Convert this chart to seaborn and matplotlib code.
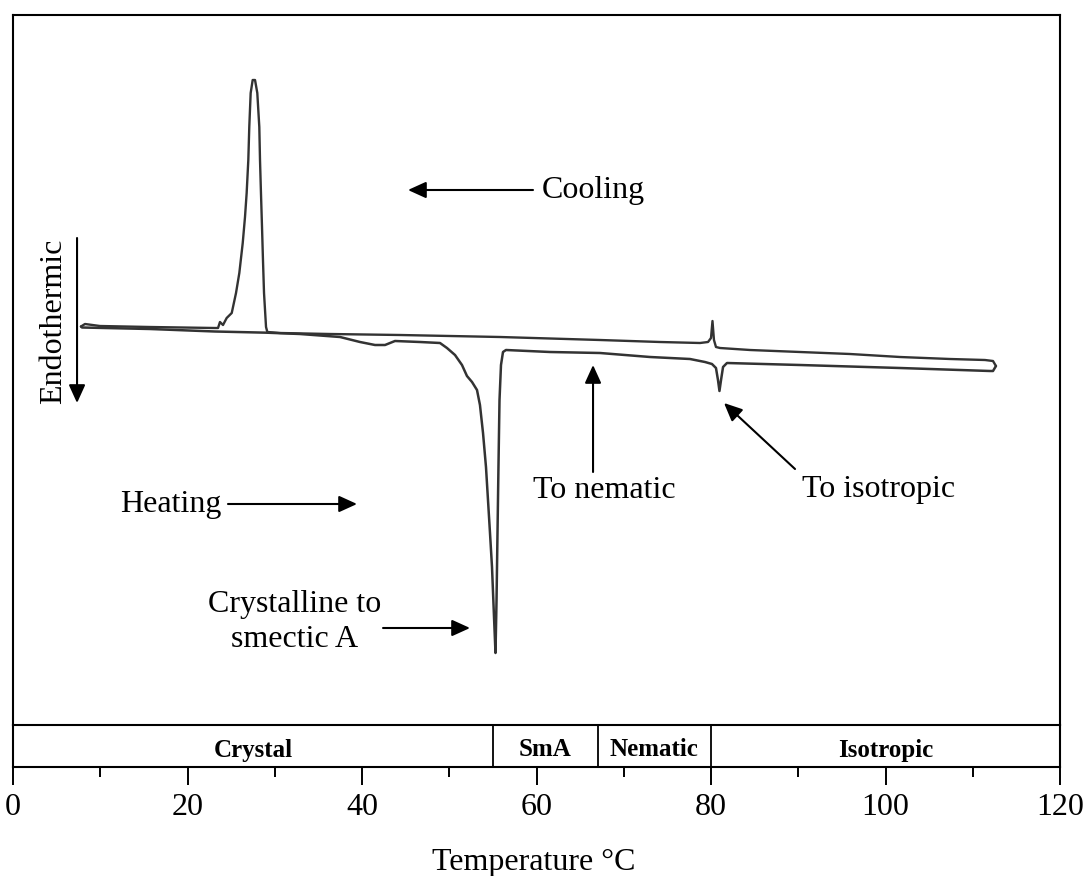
import numpy as np
import pandas as pd
import matplotlib
matplotlib.use("Agg")
import matplotlib.pyplot as plt
from matplotlib.ticker import MultipleLocator
import seaborn as sns

# ---------------- data ----------------
# Heating run (low T -> high T): temperature (°C) and heat flow (a.u., endotherm down)
heating_T = [7.79, 7.91, 15.70, 23.15, 29.11, 32.89, 37.48, 39.77, 41.49, 42.64, 43.21, 43.78,
             46.65, 48.94, 49.74, 50.66, 51.46, 52.03, 52.61, 53.18, 53.52, 53.87, 54.21,
             54.44, 54.67, 54.90, 55.13, 55.30, 55.42, 55.53, 55.64, 55.76, 55.93, 56.16,
             56.50, 61.55, 67.28, 73.01, 77.59, 79.31, 80.11, 80.57, 80.80, 80.97, 81.15,
             81.38, 81.83, 90.20, 101.66, 111.98, 112.32, 112.66]
heating_H = [1.35, 1.25, 1.1, 0.85, 0.73, 0.6, 0.3, -0.2, -0.5, -0.5, -0.3, -0.1,
             -0.2, -0.3, -0.8, -1.5, -2.5, -3.6, -4.2, -5.0, -6.5, -9.3, -12.7,
             -16.0, -19.3, -22.7, -27.7, -31.3, -26.0, -19.3, -12.7, -6.0, -2.5, -1.2,
             -1.0, -1.2, -1.3, -1.7, -1.9, -2.2, -2.4, -2.8, -4.0, -5.1, -4.0,
             -2.7, -2.3, -2.5, -2.8, -3.1, -3.1, -2.6]

# Cooling run (high T -> low T)
cooling_T = [112.66, 112.32, 111.40, 107.39, 101.66, 95.93, 90.20, 84.47, 81.03, 80.57, 80.34,
             80.17, 80.00, 79.66, 78.74, 74.15, 67.28, 55.82, 44.36, 36.33, 30.60, 29.15,
             29.00, 28.77, 28.65, 28.54, 28.42, 28.31, 28.23, 28.00, 27.74, 27.47, 27.24,
             27.08, 26.97, 26.78, 26.59, 26.33, 25.94, 25.56, 25.07, 24.49, 24.07, 23.72,
             23.50, 23.15, 15.70, 9.97, 8.25, 7.79]
cooling_H = [-2.6, -2.1, -2.0, -1.9, -1.7, -1.4, -1.2, -1.0, -0.8, -0.7, 0.0,
             1.9, 0.2, -0.2, -0.3, -0.2, 0.0, 0.3, 0.5, 0.6, 0.7, 0.8,
             1.3, 4.7, 8.0, 11.3, 14.7, 18.0, 21.3, 24.7, 26.0, 26.0, 24.7,
             21.3, 18.0, 14.7, 12.3, 9.7, 6.7, 4.7, 2.7, 2.2, 1.5, 1.8,
             1.2, 1.2, 1.3, 1.4, 1.6, 1.35]

# Phase bar
phase_names = ["Crystal", "SmA", "Nematic", "Isotropic"]
phase_bounds = [0, 55, 67, 80, 120]

x_ticks_major = [0, 20, 40, 60, 80, 100, 120]

# ---------------- styling ----------------
sns.set_style("white")
plt.rcParams["font.family"] = ["Liberation Serif", "DejaVu Serif"]
plt.rcParams["text.color"] = "black"
plt.rcParams["axes.labelcolor"] = "black"
plt.rcParams["xtick.color"] = "black"
plt.rcParams["xtick.bottom"] = True

W, H = 1087, 876
fig = plt.figure(figsize=(W / 100, H / 100), dpi=100)

left_px, right_px = 13, 1060
top_px, bar_top_px, bar_bot_px = 15, 725, 767
l = left_px / W
w = (right_px - left_px) / W
ax = fig.add_axes([l, 1 - bar_top_px / H, w, (bar_top_px - top_px) / H])
axb = fig.add_axes([l, 1 - bar_bot_px / H, w, (bar_bot_px - bar_top_px) / H], sharex=ax)

line_color = "#333333"
df_heat = pd.DataFrame({"T": heating_T, "H": heating_H})
df_cool = pd.DataFrame({"T": cooling_T, "H": cooling_H})
sns.lineplot(data=df_heat, x="T", y="H", sort=False, estimator=None, ax=ax,
             color=line_color, linewidth=1.8, solid_capstyle="round", solid_joinstyle="round")
sns.lineplot(data=df_cool, x="T", y="H", sort=False, estimator=None, ax=ax,
             color=line_color, linewidth=1.7, solid_capstyle="round", solid_joinstyle="round")

ax.set_xlim(0, 120)
ax.set_ylim(-38.5, 32.5)
ax.set_xlabel("")
ax.set_ylabel("")
ax.tick_params(left=False, bottom=False, labelleft=False, labelbottom=False)
for s in ax.spines.values():
    s.set_color("black")
    s.set_linewidth(1.5)
ax.spines["bottom"].set_visible(False)

# phase bar
axb.set_ylim(0, 1)
axb.set_yticks([])
for s in axb.spines.values():
    s.set_color("black")
    s.set_linewidth(1.5)
for b in phase_bounds[1:-1]:
    axb.axvline(b, color="black", linewidth=1.3)
for name, a, b in zip(phase_names, phase_bounds[:-1], phase_bounds[1:]):
    axb.text((a + b) / 2, 0.25, name, ha="center", va="baseline", fontsize=18,
             fontweight="bold")

axb.xaxis.set_major_locator(MultipleLocator(20))
axb.xaxis.set_minor_locator(MultipleLocator(10))
axb.set_xticks(x_ticks_major)
axb.set_xticklabels([str(t) for t in x_ticks_major])
axb.tick_params(axis="x", which="both", bottom=True, top=False, direction="out")
axb.tick_params(axis="x", which="major", length=13, width=1.4,
                labelsize=23, pad=6, color="black", labelcolor="black")
axb.tick_params(axis="x", which="minor", length=7.5, width=1.4, color="black")
axb.set_xlabel("")

fig.text(534 / W, 1 - 870 / H, "Temperature °C", ha="center", va="baseline", fontsize=23)

# ---------------- annotations ----------------
fs = 23
arrow = dict(arrowstyle="-|>,head_length=0.55,head_width=0.25", color="black",
             linewidth=1.5, mutation_scale=20, shrinkA=0, shrinkB=0)

ax.text(60.6, 14.2, "Cooling", ha="left", va="baseline", fontsize=fs)
ax.annotate("", xy=(45.27, 15.0), xytext=(59.6, 15.0), arrowprops=arrow)

ax.text(5.5, 1.85, "Endothermic", rotation=90, rotation_mode="anchor",
        ha="center", va="baseline", fontsize=fs)
ax.annotate("", xy=(7.34, -6.3), xytext=(7.34, 10.2), arrowprops=arrow)

ax.text(23.84, -17.2, "Heating", ha="right", va="baseline", fontsize=fs)
ax.annotate("", xy=(39.43, -16.4), xytext=(24.64, -16.4), arrowprops=arrow)

ax.text(32.3, -27.2, "Crystalline to", ha="center", va="baseline", fontsize=fs)
ax.text(32.3, -30.7, "smectic A", ha="center", va="baseline", fontsize=fs)
ax.annotate("", xy=(52.38, -28.8), xytext=(42.41, -28.8), arrowprops=arrow)

ax.text(59.6, -15.8, "To nematic", ha="left", va="baseline", fontsize=fs)
ax.annotate("", xy=(66.48, -2.5), xytext=(66.48, -13.2), arrowprops=arrow)

ax.text(90.4, -15.7, "To isotropic", ha="left", va="baseline", fontsize=fs)
ax.annotate("", xy=(81.49, -6.3), xytext=(89.63, -12.9), arrowprops=arrow)

fig.savefig("out.png", dpi=100, facecolor="white")
